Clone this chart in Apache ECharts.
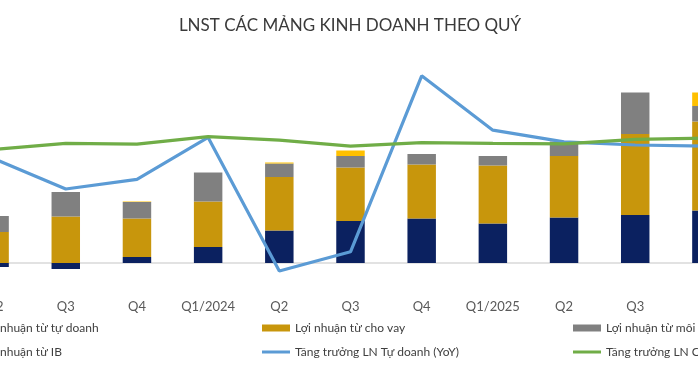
<!DOCTYPE html>
<html>
<head>
<meta charset="utf-8">
<script src="https://cdn.jsdelivr.net/npm/echarts@6/dist/echarts.min.js"></script>
<style>
html,body{margin:0;padding:0;background:#fff;overflow:hidden;width:698px;height:367px;position:relative;}
#c{width:860px;height:367px;position:absolute;left:-80px;top:0;}
</style>
</head>
<body>
<div id="c"></div>
<script>
const categories = ["Q2","Q3","Q4","Q1/2024","Q2","Q3","Q4","Q1/2025","Q2","Q3","Q4"];
const tuDoanh = [-8,-12,12,32,65,84,89,79,91,96,105];
const choVay  = [62,93,77,91,107,107,108,116,123,162,178];
const moiGioi = [32,49,33,58,27,23,21,19,29,83,31];
const ib      = [0,0,1,0,2,11,0,0,0,0,27];
const tangTruongTuDoanh = [10,-65,-41,64,-270,-222,218,82,53,45,42];
const tangTruongChoVay  = [34,49,47,66,57,42,51,49,48,59,62];

const seriesNames = ["Lợi nhuận từ tự doanh","Lợi nhuận từ cho vay","Lợi nhuận từ môi giới","Lợi nhuận từ IB","Tăng trưởng LN Tự doanh (YoY)","Tăng trưởng LN Cho vay (YoY)"];
const colors = ["#0b2160","#c8960c","#808080","#ffc000","#5b9bd5","#70ad47"];

const chart = echarts.init(document.getElementById('c'));
const legendText = {color:'#404040', fontSize:12, fontFamily:'Lato'};
const lineIcon = 'path://M0,0L28,0L28,3L0,3Z';
function legendCol(left, names){
  return {left:left, top:317, orient:'vertical', itemGap:12, itemWidth:28, itemHeight:7,
    textStyle:legendText, selectedMode:false,
    data:names.map(n => n.indexOf('Tăng') === 0 ? {name:n, icon:lineIcon} : {name:n, icon:'rect'})};
}
function barSeries(i, data){
  return {name:seriesNames[i], type:'bar', stack:'lnst', data:data, barWidth:'40%',
    itemStyle:{color:colors[i]}, yAxisIndex:0};
}
function lineSeries(i, data){
  return {name:seriesNames[i], type:'line', data:data, yAxisIndex:1, symbol:'none',
    lineStyle:{color:colors[i], width:3.2}, itemStyle:{color:colors[i]}};
}
chart.setOption({
  animation:false,
  textStyle:{fontFamily:'Lato'},
  title:{text:'LNST CÁC MẢNG KINH DOANH THEO QUÝ', left:'center', top:12,
    textStyle:{fontSize:17, fontWeight:'normal', color:'#3a3a3a', fontFamily:'Lato'}},
  legend:[
    legendCol(23,[seriesNames[0],seriesNames[3]]),
    legendCol(337,[seriesNames[1],seriesNames[4]]),
    legendCol(648,[seriesNames[2],seriesNames[5]])
  ],
  grid:{left:39, right:38, top:43, bottom:84, containLabel:false},
  xAxis:{type:'category', data:categories,
    axisLine:{onZero:true, lineStyle:{color:'#d9d9d9', width:1.5}},
    axisTick:{show:false},
    axisLabel:{interval:0, margin:17, color:'#595959', fontSize:13, fontFamily:'Lato'}},
  yAxis:[
    {type:'value', min:-40, max:440, interval:40, show:false, splitLine:{show:false}},
    {type:'value', min:-300, max:300, interval:100, show:false, splitLine:{show:false}}
  ],
  series:[
    barSeries(0,tuDoanh),
    barSeries(1,choVay),
    barSeries(2,moiGioi),
    barSeries(3,ib),
    lineSeries(4,tangTruongTuDoanh),
    lineSeries(5,tangTruongChoVay)
  ]
});
</script>
</body>
</html>
